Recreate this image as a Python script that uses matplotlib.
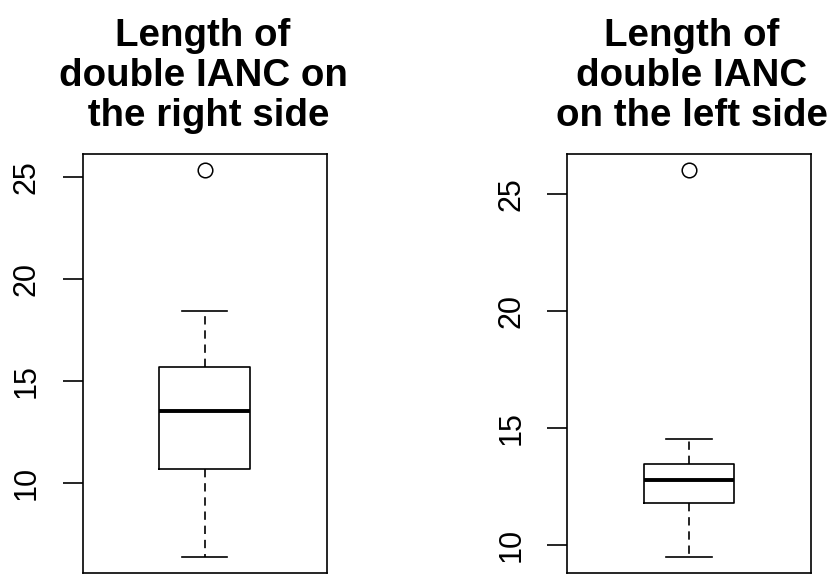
import matplotlib.pyplot as plt

# five-number summaries (mm), plus the outliers
titles = ["Length of\ndouble IANC on\n the right side",
          "Length of\ndouble IANC\non the left side"]
q1 = [10.71, 11.81]
medians = [13.55, 12.77]
q3 = [15.67, 13.48]
whisker_lo = [6.36, 9.48]
whisker_hi = [18.42, 14.54]
outliers = [[25.37], [26.03]]
yticks = [10, 15, 20, 25]

plt.rcParams['font.family'] = ['Liberation Sans', 'DejaVu Sans']

fig = plt.figure(figsize=(8.32, 5.74), dpi=100)
W, H = 832, 574
axes = [fig.add_axes([82.7 / W, 1 / H, 244 / W, 419 / H]),
        fig.add_axes([567 / W, 1 / H, 244 / W, 419 / H])]
title_x = [203, 692]

for i, ax in enumerate(axes):
    stats = [{
        'med': medians[i], 'q1': q1[i], 'q3': q3[i],
        'whislo': whisker_lo[i], 'whishi': whisker_hi[i],
        'fliers': outliers[i],
    }]
    ax.bxp(stats, positions=[1], widths=0.372, patch_artist=False,
           boxprops=dict(color='black', linewidth=1.2),
           medianprops=dict(color='black', linewidth=2.8, solid_capstyle='butt'),
           whiskerprops=dict(color='black', linewidth=1.2, linestyle=(0, (5, 3.5))),
           capprops=dict(color='black', linewidth=1.2),
           flierprops=dict(marker='o', markerfacecolor='none', markeredgecolor='black',
                           markersize=10.5, markeredgewidth=1.1))

    # R style y range: data range padded by 4% each side
    lo = whisker_lo[i]
    hi = max(outliers[i])
    pad = 0.04 * (hi - lo)
    ax.set_ylim(lo - pad, hi + pad)
    ax.set_xlim(0.5, 1.5)

    ax.set_xticks([])
    ax.set_yticks(yticks)
    ax.set_yticklabels([str(t) for t in yticks], rotation=90, va='center', fontsize=22)
    ax.tick_params(axis='y', length=14.4, width=1.2, pad=15)
    for sp in ax.spines.values():
        sp.set_linewidth(1.2)

    fig.text(title_x[i] / W, 1 - 126 / H, titles[i], ha='center', va='baseline',
             multialignment='center', fontsize=27.7, fontweight='bold',
             linespacing=1.15, transform=fig.transFigure)

fig.savefig('out.png', dpi=100)
